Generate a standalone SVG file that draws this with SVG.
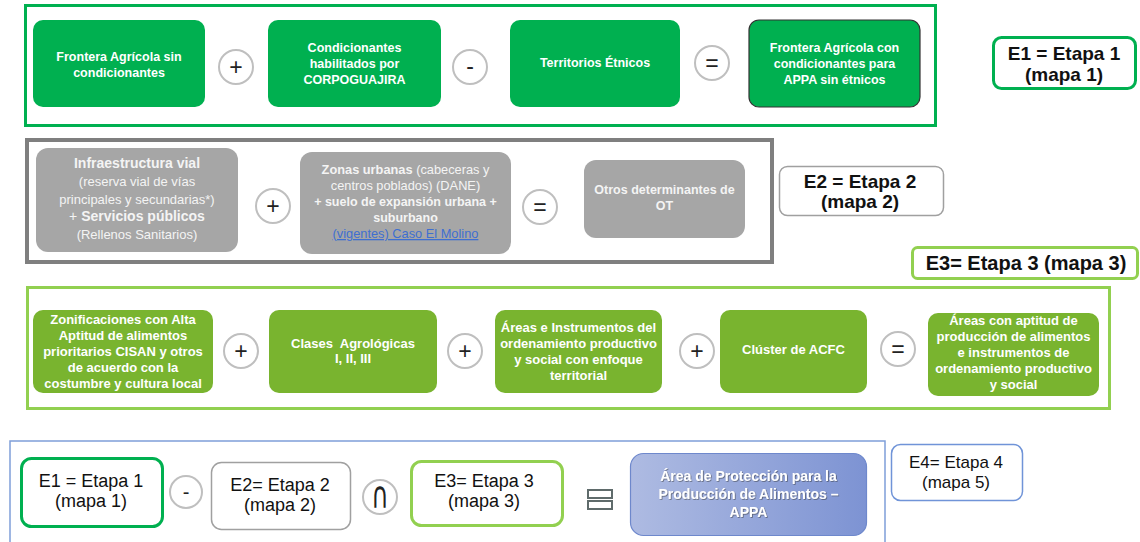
<svg xmlns="http://www.w3.org/2000/svg" width="1140" height="542" viewBox="0 0 1140 542">
<defs>
<linearGradient id="gAppa" x1="0" y1="0" x2="1" y2="0">
<stop offset="0" stop-color="#aebbe2"/>
<stop offset="1" stop-color="#7d93d3"/>
</linearGradient>
<filter id="sh" x="-10%" y="-10%" width="120%" height="130%">
<feDropShadow dx="0.8" dy="0.8" stdDeviation="0.6" flood-color="#333" flood-opacity="0.6"/>
</filter>
</defs>
<style>
text{font-family:"Liberation Sans",Arial,sans-serif;text-anchor:middle}
.frame1{fill:none;stroke:#00b050;stroke-width:3}
.frame2{fill:none;stroke:#7f7f7f;stroke-width:4}
.frame3{fill:none;stroke:#92d050;stroke-width:3}
.frame4{fill:none;stroke:#7f9fd9;stroke-width:1.5}
.g1{fill:#00b050}
.gr{fill:#a6a6a6}
.g3{fill:#79b42f}
.op{fill:#fff;stroke:#bfbfbf;stroke-width:2}
.opt{font-size:23px;fill:#222}
.wt{fill:#fff;font-size:12.5px;font-weight:bold}
.w3{fill:#fff;font-size:13px;font-weight:bold}
.lt{fill:#f4f4f4;font-size:13px}
.ltb{fill:#f4f4f4;font-size:14px;font-weight:bold}
.lab{font-size:19px;font-weight:bold;fill:#111}
.lab2{font-size:18px;fill:#111}
</style>

<!-- Section 1 -->
<rect class="frame1" x="25.5" y="5.5" width="910" height="120"/>
<g id="s1-frontera">
<rect class="g1" x="33" y="20" width="172" height="87" rx="10"/>
<text class="wt" x="119" y="61">Frontera Agrícola sin</text>
<text class="wt" x="119" y="77">condicionantes</text>
</g>
<g id="s1-op-plus"><circle class="op" cx="236" cy="67" r="17"/><text class="opt" x="236" y="75">+</text></g>
<g id="s1-condicionantes">
<rect class="g1" x="268" y="20" width="173" height="87" rx="10"/>
<text class="wt" x="354.5" y="52">Condicionantes</text>
<text class="wt" x="354.5" y="68">habilitados por</text>
<text class="wt" x="354.5" y="84">CORPOGUAJIRA</text>
</g>
<g id="s1-op-minus"><circle class="op" cx="470" cy="67" r="17"/><text class="opt" x="470" y="74">-</text></g>
<g id="s1-territorios">
<rect class="g1" x="510" y="20" width="170" height="87" rx="10"/>
<text class="wt" x="595" y="67">Territorios Étnicos</text>
</g>
<g id="s1-op-eq"><circle class="op" cx="712" cy="63" r="17"/><text class="opt" x="712" y="71">=</text></g>
<g id="s1-resultado">
<rect class="g1" x="749" y="20" width="171" height="87" rx="10" stroke="#333" stroke-width="1.2"/>
<text class="wt" x="834.5" y="52">Frontera Agrícola con</text>
<text class="wt" x="834.5" y="68">condicionantes para</text>
<text class="wt" x="834.5" y="84">APPA sin étnicos</text>
</g>
<g id="label-e1">
<rect x="993.5" y="37.5" width="142" height="51" rx="8" fill="#fff" stroke="#00b050" stroke-width="3"/>
<text class="lab" x="1064" y="60">E1 = Etapa 1</text>
<text class="lab" x="1064" y="81">(mapa 1)</text>
</g>

<!-- Section 2 -->
<rect class="frame2" x="27" y="140" width="745" height="122"/>
<g id="s2-infraestructura">
<rect class="gr" x="36" y="148" width="202" height="104" rx="12"/>
<text class="ltb" x="137" y="168">Infraestructura vial</text>
<text class="lt" x="137" y="186">(reserva vial de vías</text>
<text class="lt" x="137" y="204">principales y secundarias*)</text>
<text x="137" y="221" style="fill:#f4f4f4;font-size:14px">+ <tspan font-weight="bold">Servicios públicos</tspan></text>
<text class="lt" x="137" y="239">(Rellenos Sanitarios)</text>
</g>
<g id="s2-op-plus"><circle class="op" cx="273" cy="206" r="17"/><text class="opt" x="273" y="214">+</text></g>
<g id="s2-zonas">
<rect class="gr" x="300" y="152" width="211" height="102" rx="12"/>
<text x="405.5" y="174" style="fill:#f4f4f4;font-size:12.8px"><tspan font-weight="bold">Zonas urbanas</tspan> (cabeceras y</text>
<text x="405.5" y="190" style="fill:#f4f4f4;font-size:12.8px">centros poblados) (DANE)</text>
<text x="405.5" y="206" style="fill:#f4f4f4;font-size:12.5px;font-weight:bold">+ suelo de expansión urbana +</text>
<text x="405.5" y="222" style="fill:#f4f4f4;font-size:12.5px;font-weight:bold">suburbano</text>
<text x="405.5" y="238" style="fill:#3f6fd0;font-size:12.8px;text-decoration:underline">(vigentes) Caso El Molino</text>
</g>
<g id="s2-op-eq"><circle class="op" cx="540" cy="207" r="17"/><text class="opt" x="540" y="215">=</text></g>
<g id="s2-otros">
<rect class="gr" x="584" y="160" width="161" height="78" rx="12"/>
<text x="664.5" y="194" style="fill:#f4f4f4;font-size:12.5px;font-weight:bold">Otros determinantes de</text>
<text x="664.5" y="210" style="fill:#f4f4f4;font-size:12.5px;font-weight:bold">OT</text>
</g>
<g id="label-e2">
<rect x="779.5" y="166.5" width="164" height="49" rx="8" fill="#fff" stroke="#a0a0a0" stroke-width="1.5"/>
<text class="lab" x="860" y="188">E2 = Etapa 2</text>
<text class="lab" x="860" y="208">(mapa 2)</text>
</g>
<g id="label-e3">
<rect x="912.5" y="247.5" width="225" height="31" rx="5" fill="#fff" stroke="#92d050" stroke-width="3"/>
<text class="lab" x="1026" y="270" style="font-size:20px">E3= Etapa 3 (mapa 3)</text>
</g>

<!-- Section 3 -->
<rect class="frame3" x="27.5" y="287.5" width="1082" height="121"/>
<g id="s3-zonificaciones">
<rect class="g3" x="33" y="310" width="180" height="83" rx="10"/>
<text class="w3" x="123" y="324">Zonificaciones con Alta</text>
<text class="w3" x="123" y="340">Aptitud de alimentos</text>
<text class="w3" x="123" y="356">prioritarios CISAN y otros</text>
<text class="w3" x="123" y="372">de acuerdo con la</text>
<text class="w3" x="123" y="388">costumbre y cultura local</text>
</g>
<g id="s3-op-plus1"><circle class="op" cx="241" cy="351" r="17"/><text class="opt" x="241" y="359">+</text></g>
<g id="s3-clases">
<rect class="g3" x="269" y="310" width="168" height="83" rx="10"/>
<text class="w3" x="353" y="348" xml:space="preserve">Clases  Agrológicas</text>
<text class="w3" x="353" y="363">I, II, III</text>
</g>
<g id="s3-op-plus2"><circle class="op" cx="465" cy="351" r="17"/><text class="opt" x="465" y="359">+</text></g>
<g id="s3-areas">
<rect class="g3" x="495" y="310" width="167" height="83" rx="10"/>
<text class="w3" x="578.5" y="332">Áreas e Instrumentos del</text>
<text class="w3" x="578.5" y="348">ordenamiento productivo</text>
<text class="w3" x="578.5" y="364">y social con enfoque</text>
<text class="w3" x="578.5" y="380">territorial</text>
</g>
<g id="s3-op-plus3"><circle class="op" cx="697" cy="351" r="17"/><text class="opt" x="697" y="359">+</text></g>
<g id="s3-cluster">
<rect class="g3" x="720" y="310" width="147" height="83" rx="10"/>
<text class="w3" x="793.5" y="354">Clúster de ACFC</text>
</g>
<g id="s3-op-eq"><circle class="op" cx="898" cy="349" r="17"/><text class="opt" x="898" y="357">=</text></g>
<g id="s3-resultado">
<rect class="g3" x="928" y="313" width="171" height="83" rx="10"/>
<text class="w3" x="1013.5" y="325">Áreas con aptitud de</text>
<text class="w3" x="1013.5" y="341">producción de alimentos</text>
<text class="w3" x="1013.5" y="357">e instrumentos de</text>
<text class="w3" x="1013.5" y="373">ordenamiento productivo</text>
<text class="w3" x="1013.5" y="389">y social</text>
</g>

<!-- Section 4 -->
<path class="frame4" d="M10,543 V441 H885 V543"/>
<g id="s4-e1">
<rect x="21.5" y="458.5" width="141" height="68" rx="10" fill="#fff" stroke="#00b050" stroke-width="3"/>
<text class="lab2" x="91" y="487">E1 = Etapa 1</text>
<text class="lab2" x="91" y="507">(mapa 1)</text>
</g>
<g id="s4-op-minus"><circle class="op" cx="186" cy="492" r="16"/><text class="opt" x="186" y="499" style="font-size:20px">-</text></g>
<g id="s4-e2">
<rect x="211.5" y="462.5" width="139" height="67" rx="10" fill="#fff" stroke="#a0a0a0" stroke-width="1.5"/>
<text class="lab2" x="280" y="491">E2= Etapa 2</text>
<text class="lab2" x="280" y="511">(mapa 2)</text>
</g>
<g id="s4-op-cap"><circle class="op" cx="380" cy="497" r="17"/><text transform="translate(380,508) scale(1,1.55)" x="0" y="0" style="font-family:'DejaVu Sans',sans-serif;font-size:24px;fill:#222">∩</text></g>
<g id="s4-e3">
<rect x="411.5" y="461.5" width="151" height="64" rx="10" fill="#fff" stroke="#92d050" stroke-width="3"/>
<text class="lab2" x="484" y="487">E3= Etapa 3</text>
<text class="lab2" x="484" y="507">(mapa 3)</text>
</g>
<g id="s4-op-eq">
<rect x="588" y="490" width="24" height="8" fill="none" stroke="#5f6b6b" stroke-width="2"/>
<rect x="588" y="501" width="24" height="8" fill="none" stroke="#5f6b6b" stroke-width="2"/>
</g>
<g id="s4-appa">
<rect x="630.5" y="453.5" width="236" height="82" rx="13" fill="url(#gAppa)" stroke="#6e88cc" stroke-width="1.2"/>
<g filter="url(#sh)">
<text class="wt" x="748.5" y="481" style="font-size:14px">Área de Protección para la</text>
<text class="wt" x="748.5" y="499" style="font-size:14px">Producción de Alimentos –</text>
<text class="wt" x="748.5" y="517" style="font-size:14px">APPA</text>
</g>
</g>
<g id="label-e4">
<rect x="891.5" y="444.5" width="131" height="56" rx="9" fill="#fff" stroke="#7094d8" stroke-width="1.5"/>
<text class="lab2" x="956" y="468" style="font-size:17px">E4= Etapa 4</text>
<text class="lab2" x="956" y="488" style="font-size:17px">(mapa 5)</text>
</g>
<g id="connectors"/>
</svg>
